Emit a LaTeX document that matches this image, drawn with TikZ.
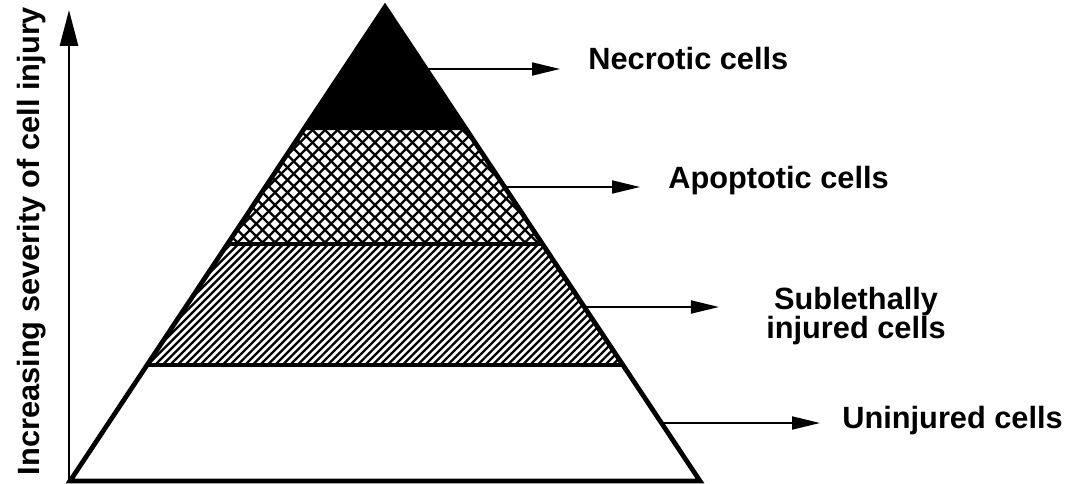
\documentclass[tikz,border=0pt]{standalone}
\usepackage{fontspec}
\setmainfont{Liberation Sans}
\usetikzlibrary{arrows.meta}

\begin{document}
\begin{tikzpicture}[
    x=0.02cm, y=-0.02cm,
    celltext/.style={
        font=\fontsize{17.5}{17}\selectfont\bfseries,
        inner sep=0pt,
        align=center
    },
    outline/.style={
        line width=2.7pt,
        line join=miter
    },
    pointer/.style={
        -{Triangle[length=0.56cm, width=0.26cm]},
        line width=1.1pt
    },
    axisarrow/.style={
        -{Triangle[length=0.72cm, width=0.36cm]},
        line width=1.6pt
    },
    hatchline/.style={
        line width=1.35pt
    }
]
\useasboundingbox (0,0) rectangle (1070,483);

% Pyramid corners and band edges
\coordinate (apex) at (385,7);
\coordinate (necL) at (303,130);
\coordinate (necR) at (467,130);
\coordinate (apoL) at (227.4,244);
\coordinate (apoR) at (542.6,244);
\coordinate (subL) at (147,365);
\coordinate (subR) at (623,365);
\coordinate (baseL) at (70,481);
\coordinate (baseR) at (700,481);

% Necrotic band
\fill (apex) -- (necR) -- (necL) -- cycle;

% Apoptotic band, cross hatched
\begin{scope}
    \clip (necL) -- (necR) -- (apoR) -- (apoL) -- cycle;
    \foreach \i in {100,112.5,...,690} {
        \draw[hatchline] (\i,130) -- ++(114,114);
        \draw[hatchline] (\i,130) -- ++(-114,114);
    }
\end{scope}

% Sublethal band, single hatch
\begin{scope}
    \clip (apoL) -- (apoR) -- (subR) -- (subL) -- cycle;
    \foreach \i in {20,27.5,...,630} {
        \draw[hatchline] (\i,365) -- ++(121,-121);
    }
\end{scope}

% Band borders and outline
\draw[outline] (apoL) -- (apoR);
\draw[outline] (subL) -- (subR);
\draw[outline] (apex) -- (baseR) -- (baseL) -- cycle;

% Severity axis
\coordinate (axisBottom) at (69,483);
\coordinate (axisTop) at (69,10);
\draw[axisarrow] (axisBottom) -- (axisTop);
\node[celltext, rotate=90, anchor=base] (severity) at (39,241) {Increasing severity of cell injury};

% Labels
\node[celltext, anchor=base west] (necrotic) at (588,70) {Necrotic cells};
\node[celltext, anchor=base west] (apoptotic) at (668,188) {Apoptotic cells};
\node[celltext] (sublethal) at (856,316) {Sublethally\\injured cells};
\node[celltext, anchor=base west] (uninjured) at (842,428) {Uninjured cells};

% Arrows from the pyramid edge
\coordinate (necStart) at (426,69);
\coordinate (apoStart) at (505,187);
\coordinate (subStart) at (585,307);
\coordinate (uniStart) at (662,423);

\draw[pointer, shorten >=0.56cm] (necStart) -- (necStart -| necrotic.west);
\draw[pointer, shorten >=0.56cm] (apoStart) -- (apoStart -| apoptotic.west);
\draw[pointer, shorten >=0.94cm] (subStart) -- (subStart -| sublethal.west);
\draw[pointer, shorten >=0.44cm] (uniStart) -- (uniStart -| uninjured.west);

\end{tikzpicture}
\end{document}
